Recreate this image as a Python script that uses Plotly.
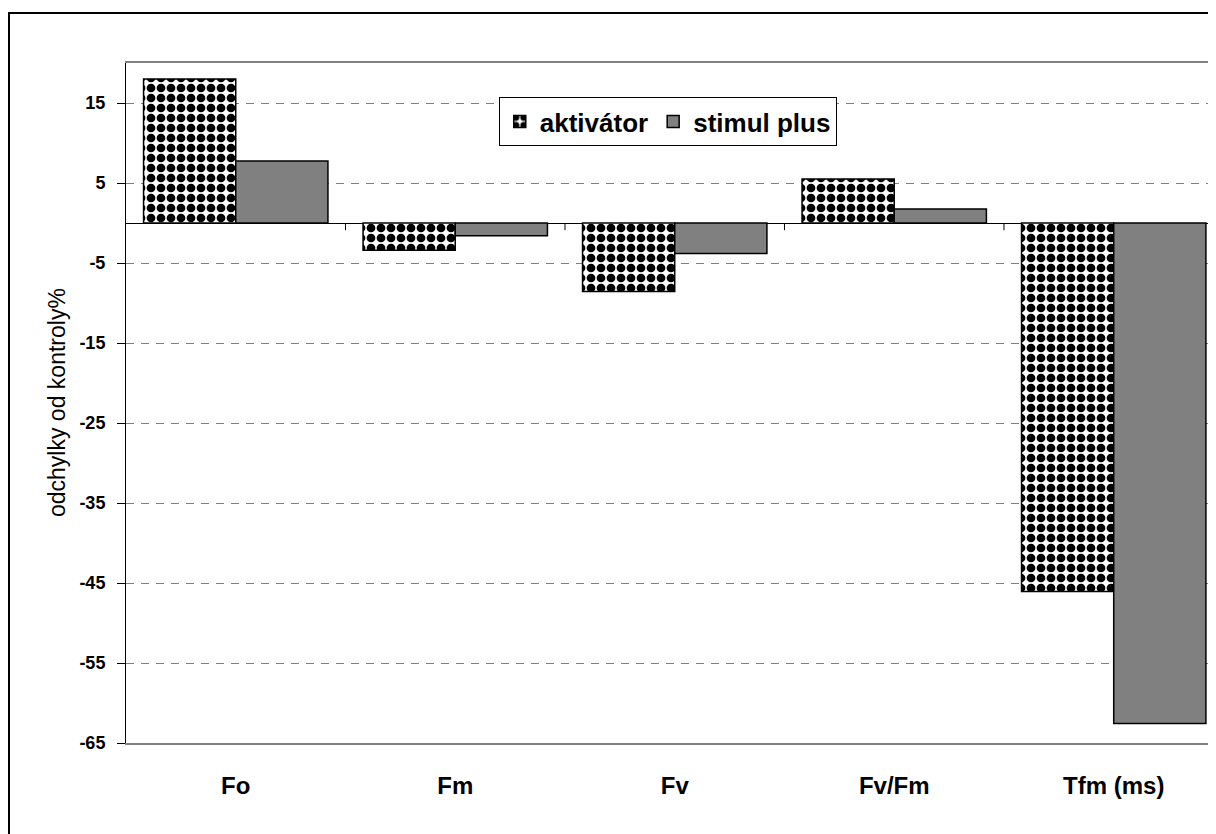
import plotly.graph_objects as go

categories = ["Fo", "Fm", "Fv", "Fv/Fm", "Tfm (ms)"]
aktivator = [18.0, -3.4, -8.55, 5.5, -46.05]
stimul_plus = [7.75, -1.6, -3.8, 1.75, -62.55]
y_ticks = [15, 5, -5, -15, -25, -35, -45, -55, -65]
y_tick_text = ["15", "5", "-5", "-15", "-25", "-35", "-45", "-55", "-65"]

FONT = "Arial, Liberation Sans, sans-serif"

fig = go.Figure()
fig.add_trace(go.Bar(
    x=categories, y=aktivator, name="aktivátor",
    marker=dict(color="white", line=dict(color="black", width=1.5),
                pattern=dict(shape=".", fgcolor="black", bgcolor="white",
                             fgopacity=1, size=10, solidity=0.6, fillmode="replace")),
))
fig.add_trace(go.Bar(
    x=categories, y=stimul_plus, name="stimul plus",
    marker=dict(color="#808080", line=dict(color="black", width=1.5)),
))

# small category separator ticks on the zero line
shapes = []
for i in range(len(categories) - 1):
    shapes.append(dict(type="line", xref="x", yref="y",
                       x0=i + 0.5, x1=i + 0.5, y0=0, y1=-0.9,
                       line=dict(color="black", width=1)))
# outer chart frame
shapes.append(dict(type="rect", xref="paper", yref="paper",
                   x0=-0.10734, x1=1.05, y0=-0.3, y1=1.07353,
                   line=dict(color="black", width=2), layer="below"))

fig.update_layout(
    width=1208, height=826,
    margin=dict(l=118, r=0, t=55, b=91),
    paper_bgcolor="white", plot_bgcolor="white",
    barmode="group", bargap=0.16, bargroupgap=0,
    font=dict(family=FONT, color="black"),
    showlegend=True,
    legend=dict(orientation="h", x=0.342, y=0.95, xanchor="left", yanchor="top",
                bordercolor="black", borderwidth=1, bgcolor="white",
                font=dict(size=26, family=FONT, weight="bold"),
                itemwidth=30, tracegroupgap=0),
    shapes=shapes,
    annotations=[dict(text="odchylky od kontroly%", xref="paper", yref="paper",
                      x=-0.0633, y=0.5, xanchor="center", yanchor="middle",
                      textangle=-90, showarrow=False,
                      font=dict(size=23, family=FONT))],
    xaxis=dict(range=[-0.5, 4.466], showline=True, linecolor="#808080", linewidth=1.5,
               mirror=True, showgrid=False, ticks="", ticklabelstandoff=20,
               tickfont=dict(size=24, family=FONT, weight="bold")),
    yaxis=dict(range=[-65, 20], tickvals=y_ticks, ticktext=y_tick_text,
               ticks="outside", ticklen=8,
               tickcolor="black", showline=True, linecolor="black", linewidth=1,
               showgrid=True, gridcolor="#808080", griddash="8px,7px", gridwidth=1,
               zeroline=True, zerolinecolor="black", zerolinewidth=1.2,
               ticklabelstandoff=8,
               tickfont=dict(size=18, family=FONT, weight="bold")),
)

fig.write_html("out.html")
